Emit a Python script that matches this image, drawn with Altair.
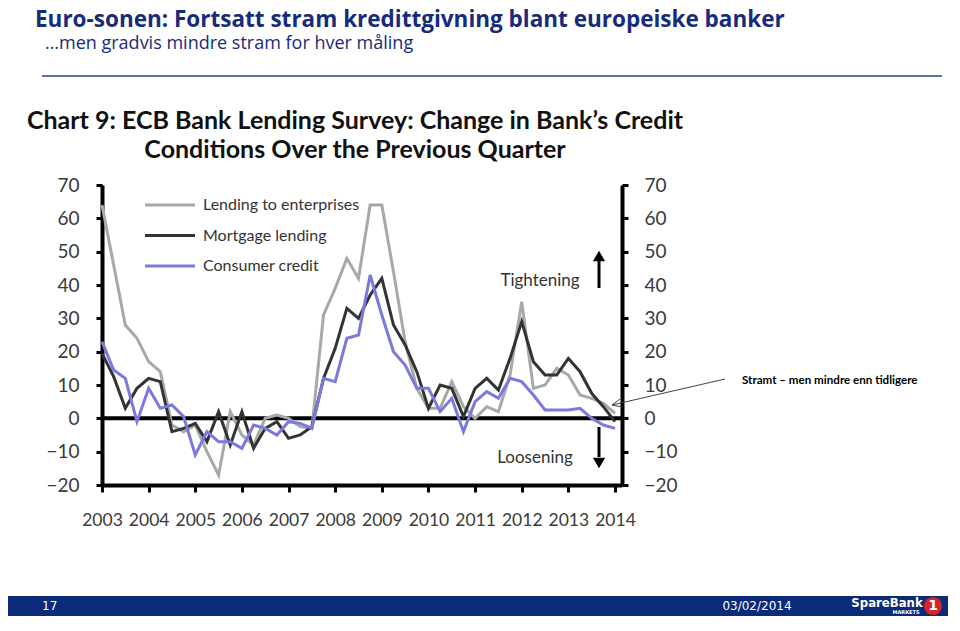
import altair as alt
import pandas as pd

# ---------------- data (quarterly from 2003Q1) ----------------
start_year = 2003
series_names = ["Lending to enterprises", "Mortgage lending", "Consumer credit"]
series_colors = ["#a8a8a8", "#333333", "#7b78de"]

enterprises = [64, 46, 28, 24, 17, 14, -2, -4, -2, -10, -17, 2, -5, -8, 0, 1, 0, -2.5, -3,
               31, 39, 48, 42, 64, 64, 44, 23, 9, 3, 3, 11, 3.5, 0, 3.5, 2, 13, 35, 9, 10,
               15, 13, 7, 6, 4.5, 1.5]
mortgage = [19.5, 12.5, 3, 9, 12, 11, -4, -3, -1.5, -7, 2, -8, 2, -9, -3, -1, -6, -5, -2.5,
            12, 21, 33, 30, 37, 42, 28, 22, 14, 3, 10, 9, 0.5, 9, 12, 8.5, 18, 29, 17, 13,
            13, 18, 14, 7.5, 3.5, -1]
consumer = [23, 14.5, 12, -1, 9, 3, 4, 0.5, -11, -4, -7, -7, -9, -2, -3, -5, -1, -1.5, -3,
            12, 11, 24, 25, 43, 31, 20, 16, 9, 9, 2, 6, -4, 5, 8, 6, 12, 11, 7, 2.5, 2.5,
            2.5, 3, 0, -2, -3]

y_ticks = [-20, -10, 0, 10, 20, 30, 40, 50, 60, 70]
x_ticks = [2003, 2004, 2005, 2006, 2007, 2008, 2009, 2010, 2011, 2012, 2013, 2014]

slide_title = "Euro-sonen: Fortsatt stram kredittgivning blant europeiske banker"
slide_subtitle = "\u2026men gradvis mindre stram for hver m\u00e5ling"
chart_title = ["Chart 9: ECB Bank Lending Survey: Change in Bank\u2019s Credit",
               "Conditions Over the Previous Quarter"]
annotation = "Stramt \u2013 men mindre enn tidligere"

rows = []
for name, vals in zip(series_names, [enterprises, mortgage, consumer]):
    for q, v in enumerate(vals):
        rows.append({"x": start_year + q / 4.0, "v": v, "series": name})
df = pd.DataFrame(rows)
one = pd.DataFrame({"k": [0]})

FONT = "Lato"
NAVY = "#172b7c"

xscale = alt.Scale(domain=[2003, 2014.15], nice=False, zero=False)
yscale = alt.Scale(domain=[-20, 70], nice=False, zero=False)

base_axis = dict(domainColor="black", domainWidth=4, tickColor="black", tickWidth=3,
                 labelColor="#3a3a3a", labelFont=FONT, grid=False, title=None,
                 labelFlush=False, labelOverlap=False)
x_axis = alt.Axis(values=x_ticks, format="d", labelFontSize=17.5, labelPadding=19,
                  tickSize=7, orient="bottom", **base_axis)
left_axis = alt.Axis(values=y_ticks, labelFontSize=19, labelPadding=17, tickSize=6,
                     orient="left", **base_axis)
right_axis = alt.Axis(values=y_ticks, labelFontSize=19, labelPadding=16, tickSize=6,
                      orient="right", labelAlign="left", **base_axis)


def txt(s, x, y, size, color="#333333", weight="normal", align="center", font=FONT,
        baseline="middle"):
    return alt.Chart(one).mark_text(text=s, align=align, baseline=baseline, fontSize=size,
                                    fontWeight=weight, color=color, font=font).encode(
        x=alt.value(x), y=alt.value(y))


def seg(x1, y1, x2, y2, color, w):
    return alt.Chart(one).mark_rule(color=color, strokeWidth=w).encode(
        x=alt.value(x1), y=alt.value(y1), x2=alt.value(x2), y2=alt.value(y2))


layers = []

# footer band
layers.append(alt.Chart(one).mark_rect(color="#0b2a7a").encode(
    x=alt.value(-94), x2=alt.value(846), y=alt.value(411), y2=alt.value(431)))

# slide titles and rule
layers.append(txt(slide_title, -67, -165, 22.5, color=NAVY, weight="bold", align="left",
                  font="Open Sans"))
layers.append(txt(slide_subtitle, -57, -141, 18, color=NAVY, align="left", font="Open Sans"))
layers.append(seg(-60, -109, 840, -109, "#2b3f8c", 1.5))

# chart title
layers.append(txt(chart_title[0], 253, -64, 25, color="#111111", weight="bold"))
layers.append(txt(chart_title[1], 253, -35, 25, color="#111111", weight="bold"))

# zero line + right axis
layers.append(alt.Chart(pd.DataFrame({"z": [0]})).mark_rule(color="black", strokeWidth=4).encode(
    y=alt.Y("z:Q", scale=yscale, axis=right_axis)))

# series lines (grey, black, blue order)
for i, (name, color) in enumerate(zip(series_names, series_colors)):
    layers.append(alt.Chart(df).transform_filter(alt.datum.series == name).mark_line(
        color=color, strokeWidth=3).encode(
        x=alt.X("x:Q", scale=xscale, axis=x_axis),
        y=alt.Y("v:Q", scale=yscale, axis=left_axis if i == 0 else None)))

# legend
for i, (name, color) in enumerate(zip(series_names, series_colors)):
    ly = 20 + 30.5 * i
    layers.append(seg(43, ly, 93, ly, color, 3))
    layers.append(txt(name, 101, ly, 16, color="#333333", align="left"))

# tightening / loosening
layers.append(txt("Tightening", 438, 96, 17))
layers.append(seg(497, 103, 497, 76, "black", 3))
layers.append(alt.Chart(one).mark_point(shape="triangle-up", filled=True, color="black",
                                         size=150, opacity=1).encode(
    x=alt.value(497), y=alt.value(71)))
layers.append(txt("Loosening", 433, 273, 17))
layers.append(seg(497, 242, 497, 272, "black", 3))
layers.append(alt.Chart(one).mark_point(shape="triangle-down", filled=True, color="black",
                                         size=150, opacity=1).encode(
    x=alt.value(497), y=alt.value(278)))

# annotation with arrow
layers.append(txt(annotation, 640, 196, 11.6, color="black", weight="bold", align="left"))
layers.append(seg(623, 194, 510, 220, "#444444", 1))
layers.append(seg(510, 220, 518, 214, "#444444", 1))
layers.append(seg(510, 220, 520, 222, "#444444", 1))

# footer texts and logo
layers.append(txt("17", -60, 421, 12, color="white", align="left", font="DejaVu Sans"))
layers.append(txt("03/02/2014", 655, 421, 12, color="white", font="DejaVu Sans"))
layers.append(txt("SpareBank", 785, 418, 13, color="white", weight="bold",
                  font="DejaVu Sans Condensed"))
layers.append(txt("MARKETS", 804, 427, 5, color="white", weight="bold", font="DejaVu Sans"))
layers.append(alt.Chart(one).mark_point(shape="circle", filled=True, color="#d8232a",
                                         size=330, opacity=1).encode(
    x=alt.value(831), y=alt.value(421)))
layers.append(txt("1", 831, 421, 14, color="white", weight="bold", font="DejaVu Sans"))

chart = alt.layer(*layers).resolve_axis(y="independent").properties(
    width=520, height=300,
    padding={"left": 94, "top": 177, "right": 326, "bottom": 131},
    autosize=alt.AutoSizeParams(type="none"),
    background="white",
).configure_view(stroke=None)

chart.save("out.html", embed_options={"renderer": "svg", "actions": False})
